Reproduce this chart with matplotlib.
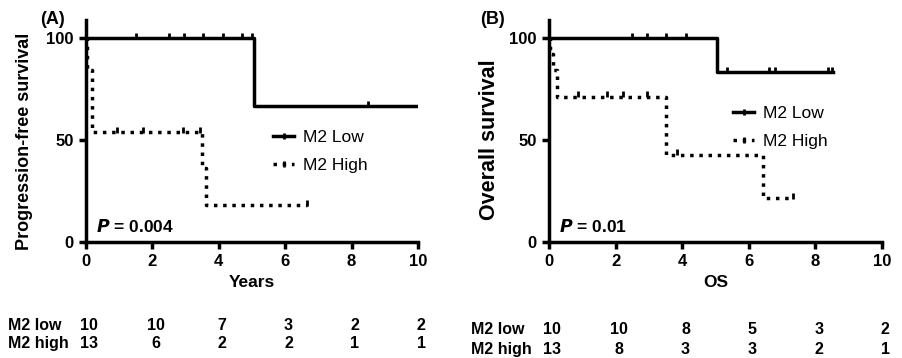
import numpy as np
import matplotlib
matplotlib.use("Agg")
import matplotlib.pyplot as plt
from matplotlib.lines import Line2D

plt.rcParams['font.family'] = ['Liberation Sans', 'DejaVu Sans']

# (A) progression-free survival
pfs_low_t = [0, 5.05, 10]
pfs_low_s = [100, 66.7, 66.7]
pfs_low_cens = [1.5, 2.5, 2.94, 3.51, 4.12, 4.69, 5.0, 8.5]
pfs_high_t = [0, 0.02, 0.17, 3.5, 3.6, 6.65]
pfs_high_s = [100, 84.6, 53.8, 36.5, 18.0, 18.0]
pfs_high_cens = [0.92, 1.73, 2.91, 3.43, 6.65]

# (B) overall survival
os_low_t = [0, 5.05, 8.54]
os_low_s = [100, 83.3, 83.3]
os_low_cens = [2.48, 2.93, 3.51, 4.11, 5.35, 6.6, 6.8, 8.37, 8.5]
os_high_t = [0, 0.03, 0.12, 0.25, 3.5, 6.44, 7.34]
os_high_s = [100, 92.3, 84.6, 71.4, 42.9, 21.4, 21.4]
os_high_cens = [0.88, 1.73, 2.23, 2.95, 3.83, 7.34]

risk_times = [0, 2, 4, 6, 8, 10]
pfs_risk_low = [10, 10, 7, 3, 2, 2]
pfs_risk_high = [13, 6, 2, 2, 1, 1]
os_risk_low = [10, 10, 8, 5, 3, 2]
os_risk_high = [13, 8, 3, 3, 2, 1]

W, H = 902, 358
fig = plt.figure(figsize=(W / 100, H / 100), dpi=100)


def surv_at(t, times, surv):
    i = np.searchsorted(times, t, side='right') - 1
    return np.array(surv)[i]


def panel(left_px, right_px, letter, letter_x, ylabel, ylab_size, ylab_pos, xlabel,
          ptxt, lo, hi, risk, leg_anchor, risk_y):
    ax = fig.add_axes([left_px / W, (H - 242) / H, (right_px - left_px) / W, 222 / H])
    lw = 2.5
    for (t, s, cens), ls in zip([lo, hi], ['-', ':']):
        ax.step(t, s, where='post', color='black', lw=lw, ls=ls)
        ax.plot(cens, surv_at(np.array(cens), t, s) + 1.2, '|', color='black',
                ms=5, mew=2)
    ax.set_xlim(0, 10)
    ax.set_ylim(0, 109)
    ax.set_xticks([0, 2, 4, 6, 8, 10])
    ax.set_yticks([0, 50, 100])
    for sp in ['top', 'right']:
        ax.spines[sp].set_visible(False)
    for sp in ['left', 'bottom']:
        ax.spines[sp].set_linewidth(2.5)
    ax.tick_params(width=2.5, length=5, labelsize=12, pad=4)
    for lab in ax.get_xticklabels() + ax.get_yticklabels():
        lab.set_fontweight('bold')
    ax.set_ylabel(ylabel, fontsize=ylab_size, fontweight='bold')
    ax.yaxis.set_label_coords(*ylab_pos)
    ax.set_xlabel(xlabel, fontsize=12.5, fontweight='bold', labelpad=4)
    ax.text(0.03, 0.07, r'$\bfit{P}$ = ' + ptxt, transform=ax.transAxes,
            fontsize=12.5, fontweight='bold', va='center')
    ax.text(letter_x, 1.0, letter, transform=ax.transAxes, fontsize=13,
            fontweight='bold', va='center', ha='center')
    handles = [Line2D([], [], color='black', lw=lw, ls='-', marker='|', ms=5, mew=2),
               Line2D([], [], color='black', lw=lw, ls=':', marker='|', ms=5, mew=2)]
    ax.legend(handles, ['M2 Low', 'M2 High'], frameon=False, loc='upper left',
              bbox_to_anchor=leg_anchor, fontsize=12.5, handlelength=1.2,
              handletextpad=0.5, labelspacing=0.75)
    tr = ax.get_xaxis_transform()
    for row, (name, vals) in enumerate(zip(['M2 low', 'M2 high'], risk)):
        y = risk_y[row]
        ax.text(-2.35, y, name, transform=tr, fontsize=11.5, fontweight='bold',
                va='center', ha='left', clip_on=False)
        for t, v in zip(risk_times, vals):
            ax.text(t + 0.1, y, str(v), transform=tr, fontsize=11.5,
                    fontweight='bold', va='center', ha='center', clip_on=False)
    return ax


panel(86, 418, '(A)', -0.10, 'Progression-free survival', 13, (-0.16, 0.455), 'Years',
      '0.004',
      (pfs_low_t, pfs_low_s, pfs_low_cens), (pfs_high_t, pfs_high_s, pfs_high_cens),
      (pfs_risk_low, pfs_risk_high), (0.517, 0.575), (-0.378, -0.459))
panel(549, 882, '(B)', -0.17, 'Overall survival', 15.5, (-0.147, 0.46), 'OS', '0.01',
      (os_low_t, os_low_s, os_low_cens), (os_high_t, os_high_s, os_high_cens),
      (os_risk_low, os_risk_high), (0.507, 0.685), (-0.396, -0.486))

fig.savefig('out.png', dpi=100)
